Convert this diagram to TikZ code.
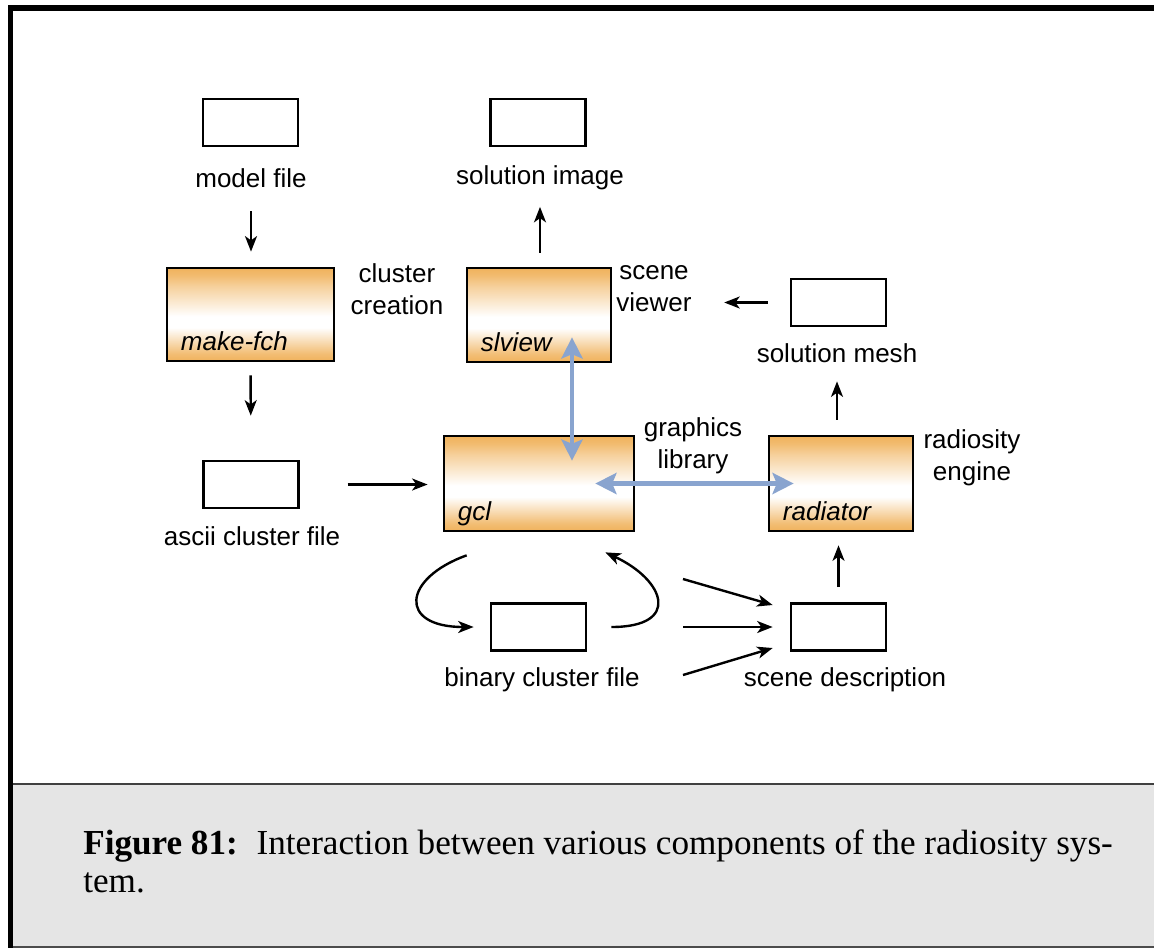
\documentclass[tikz,border=0pt]{standalone}
\usepackage{fontspec}
\setmainfont{Liberation Serif}
\newfontfamily\diagfont{Liberation Sans}
\usetikzlibrary{arrows.meta,positioning}

\definecolor{toolorange}{RGB}{240,178,92}
\definecolor{linkblue}{RGB}{137,164,207}
\definecolor{captiongray}{RGB}{229,229,229}

% orange at top and bottom, white band a little below the middle
% (pgf maps the 25bp--75bp part onto the box)
\pgfdeclareverticalshading{toolshade}{100bp}{color(0bp)=(toolorange); color(25bp)=(toolorange); color(29bp)=(toolorange!85!white); color(43bp)=(white); color(49bp)=(white); color(65bp)=(toolorange!60!white); color(71bp)=(toolorange!88!white); color(75bp)=(toolorange); color(100bp)=(toolorange)}

\begin{document}
\begin{tikzpicture}[x=0.025cm, y=-0.025cm,
    every node/.style={font=\diagfont\fontsize{18.5}{22.8}\selectfont},
    filebox/.style={draw, line width=1.9pt, minimum width=2.375cm, minimum height=1.175cm, inner sep=0pt},
    toolbox/.style={draw, line width=1.9pt, shading=toolshade, inner sep=0pt},
    tag/.style={inner sep=0pt, align=center},
    toolname/.style={anchor=base west, inner sep=0pt, font=\diagfont\itshape\fontsize{18.5}{22.8}\selectfont},
    arr/.style={line width=1.7pt, -{Stealth[length=11pt, width=8.5pt, inset=3pt]}},
    link/.style={draw=linkblue, line width=3.5pt, {Stealth[length=15pt, width=15pt, inset=3pt]}-{Stealth[length=15pt, width=15pt, inset=3pt]}}]
  \useasboundingbox (0,0) rectangle (1154,948);

  % caption band and frame
  \fill[captiongray] (13,784) rectangle (1154,946);
  \draw[line width=1pt, black!75] (13,784) -- (1154,784);
  \draw[line width=1.4pt, black!70] (13,947) -- (1154,947);
  \draw[line width=4.3pt] (8,8) -- (1154,8);
  \draw[line width=3.6pt] (10.5,5) -- (10.5,948);

  % programs
  \node[toolbox, minimum width=4.175cm, minimum height=2.325cm] (makefch) at (250.5,314.5) {};
  \node[toolbox, minimum width=3.6cm, minimum height=2.35cm] (slview) at (539,315) {};
  \node[toolbox, minimum width=4.75cm, minimum height=2.375cm] (gcl) at (539,483.5) {};
  \node[toolbox, minimum width=3.6cm, minimum height=2.375cm] (radiator) at (841,483.5) {};
  \node[toolname] (makefchname) at ([shift={(15,-12)}]makefch.south west) {make-fch};
  \node[toolname] (slviewname) at ([shift={(15,-12)}]slview.south west) {slview};
  \node[toolname] (gclname) at ([shift={(15,-12)}]gcl.south west) {gcl};
  \node[toolname] (radiatorname) at ([shift={(15,-12)}]radiator.south west) {radiator};

  % files
  \node[filebox] (modelbox) at (250.5,122.5) {};
  \node[filebox] (imagebox) at (538,122.5) {};
  \node[filebox] (meshbox) at (838.5,302.5) {};
  \node[filebox] (asciibox) at (251,484.5) {};
  \node[filebox] (binbox) at (538.5,627) {};
  \node[filebox] (scenebox) at (838.5,627) {};

  % labels
  \node[tag] (modeltxt) at (251,178) {model file};
  \node[tag] (imagetxt) at (540,178) {solution image};
  \node[tag] (meshtxt) at (837,353) {solution mesh};
  \node[tag] (asciitxt) at (252,536) {ascii cluster file};
  \node[tag] (bintxt) at (542,680) {binary cluster file};
  \node[tag] (scenetxt) at (845,680) {scene description};
  \node[tag] (clustertxt) at (397,289) {cluster\\creation};
  \node[tag] (viewertxt) at (654,289) {scene\\viewer};
  \node[tag] (gfxtxt) at (693,446) {graphics\\library};
  \node[tag] (enginetxt) at (972,458) {radiosity\\engine};

  % data flow
  \draw[arr, shorten <=16.7pt, shorten >=10.7pt] (modeltxt.south) -- (makefch.north -| modeltxt.south);
  \draw[arr, shorten <=9.2pt, shorten >=31.3pt] (makefch.south) -- (asciibox.north);
  \draw[arr, shorten <=34pt, shorten >=10.7pt] (asciibox.east) -- (gcl.west |- asciibox.east);
  \draw[arr, shorten <=10pt, shorten >=11.7pt] (slview.north -| imagetxt.south) -- (imagetxt.south);
  \draw[arr, shorten <=15.6pt, shorten >=23pt] (meshbox.west) -- (meshbox.west -| viewertxt.east);
  \draw[arr, shorten <=10.7pt, shorten >=13.2pt] (radiator.north -| meshtxt.south) -- (meshtxt.south);
  \draw[arr, shorten <=10.7pt, shorten >=9.2pt] (scenebox.north) -- (scenebox.north |- radiator.south);

  % binary cluster file written and read back
  \draw[arr] ([shift={(24,23)}]gcl.south west) .. controls +(-64,23) and +(-76,0) .. ([shift={(-16,0)}]binbox.west);
  \draw[arr] ([shift={(24,0)}]binbox.east) .. controls +(70,0) and +(60,28) .. ([shift={(-30,20)}]gcl.south east);

  % inputs of the scene description
  \coordinate (in1) at (683,579);
  \coordinate (in2) at (683,627);
  \coordinate (in3) at (683,675);
  \draw[arr] (in1) -- ([shift={(-17,-22)}]scenebox.west);
  \draw[arr] (in2) -- ([shift={(-17,0)}]scenebox.west);
  \draw[arr] (in3) -- ([shift={(-17,21)}]scenebox.west);

  % graphics library links
  \draw[link] ([shift={(33,-26)}]slview.south) -- ([shift={(33,26)}]gcl.north);
  \draw[link] ([shift={(-40,0)}]gcl.east) -- ([shift={(26,0)}]radiator.west);

  % caption
  \node[anchor=base west, inner sep=0pt, font=\rmfamily\fontsize{25}{27}\selectfont] (caption1) at (83,854) {\textbf{Figure 81:}\hspace{0.2em} Interaction between various components of the radiosity sys-};
  \node[anchor=base west, inner sep=0pt, font=\rmfamily\fontsize{25}{27}\selectfont] (caption2) at (83,892) {tem.};
\end{tikzpicture}
\end{document}
